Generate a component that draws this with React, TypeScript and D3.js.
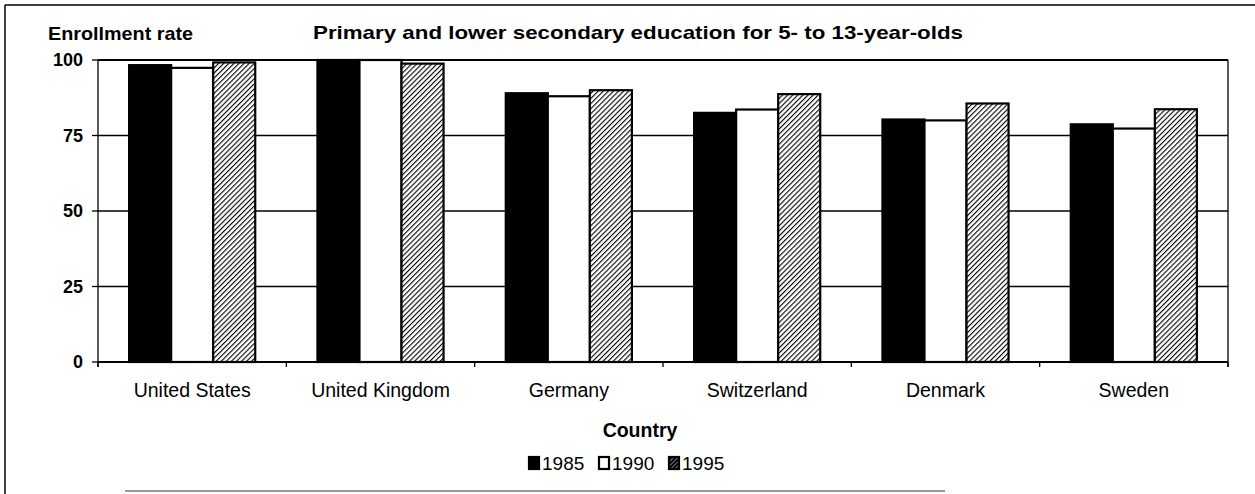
import React from "react";
import * as d3 from "d3";

const categories = ["United States", "United Kingdom", "Germany", "Switzerland", "Denmark", "Sweden"];
const seriesNames = ["1985", "1990", "1995"];
const values1985 = [98.3, 100, 89.0, 82.5, 80.3, 78.7];
const values1990 = [97.4, 100, 88.0, 83.6, 80.0, 77.3];
const values1995 = [99.2, 98.8, 90.0, 88.7, 85.6, 83.7];
const yTicks = [0, 25, 50, 75, 100];

const W = 1255, H = 494;
const M = { left: 98, right: 1228, top: 60, bottom: 362 };
const FONT = "'Liberation Sans', Arial, Helvetica, sans-serif";

export default function App() {
  const seriesVals = [values1985, values1990, values1995];
  const x0 = d3.scaleBand<string>().domain(categories).range([M.left, M.right]).paddingInner(0).paddingOuter(0);
  const x1 = d3.scaleBand<string>().domain(seriesNames).range([0, x0.bandwidth()]).paddingInner(0).paddingOuter(0.74);
  const y = d3.scaleLinear().domain([0, 100]).range([M.bottom, M.top]);
  const fills = ["#000", "#fff", "url(#hatch)"];
  const boundaries = d3.range(categories.length + 1).map((i) => M.left + i * x0.step());
  const legendX = [528, 598, 668];

  return (
    <svg width={W} height={H} style={{ position: "absolute", left: 0, top: 0, background: "#fff" }} fontFamily={FONT}>
      <defs>
        <pattern id="hatch" patternUnits="userSpaceOnUse" width="3.6" height="3.6" patternTransform="rotate(45)">
          <rect width="3.6" height="3.6" fill="#fff" />
          <line x1="0" y1="0" x2="0" y2="3.6" stroke="#000" strokeWidth="2.2" />
        </pattern>
        <pattern id="hatchSmall" patternUnits="userSpaceOnUse" width="3" height="3" patternTransform="rotate(45)">
          <rect width="3" height="3" fill="#000" />
          <line x1="0" y1="0" x2="0" y2="3" stroke="#fff" strokeWidth="1" />
        </pattern>
      </defs>
      {/* outer frame */}
      <line x1={5} y1={5} x2={W} y2={5} stroke="#000" strokeWidth={1.5} />
      <line x1={5} y1={5} x2={5} y2={H} stroke="#000" strokeWidth={1.5} />
      <line x1={125} y1={491} x2={945} y2={491} stroke="#777" strokeWidth={1.5} />

      {/* gridlines */}
      {yTicks.filter((t) => t > 0 && t < 100).map((t) => (
        <line key={t} x1={M.left} x2={M.right} y1={y(t)} y2={y(t)} stroke="#000" strokeWidth={1.3} />
      ))}
      {/* plot box */}
      <line x1={M.left} x2={M.right} y1={y(100)} y2={y(100)} stroke="#000" strokeWidth={2} />
      <line x1={M.right} x2={M.right} y1={y(100)} y2={M.bottom + 5} stroke="#000" strokeWidth={1.3} />
      <line x1={M.left} x2={M.left} y1={y(100)} y2={M.bottom + 5} stroke="#000" strokeWidth={1.3} />

      {/* bars */}
      {categories.map((c, i) => (
        <g key={c} transform={`translate(${x0(c)},0)`}>
          {seriesNames.map((s, j) => {
            const v = seriesVals[j][i];
            return (
              <rect key={s} x={x1(s)!} y={y(v)} width={x1.bandwidth()} height={y(0) - y(v)}
                fill={fills[j]} stroke="#000" strokeWidth={2.2} />
            );
          })}
        </g>
      ))}

      {/* x axis */}
      <line x1={M.left} x2={M.right} y1={M.bottom} y2={M.bottom} stroke="#000" strokeWidth={2} />
      {boundaries.map((bx, i) => (
        <line key={i} x1={bx} x2={bx} y1={M.bottom} y2={M.bottom + 5} stroke="#000" strokeWidth={1.3} />
      ))}
      {/* y ticks */}
      {yTicks.map((t) => (
        <g key={t}>
          <line x1={M.left - 6} x2={M.left} y1={y(t)} y2={y(t)} stroke="#000" strokeWidth={1.3} />
          <text x={83} y={y(t)} dy="0.36em" textAnchor="end" fontSize={18} fontWeight="bold">{t}</text>
        </g>
      ))}
      {categories.map((c) => (
        <text key={c} x={x0(c)! + x0.bandwidth() / 2} y={397} textAnchor="middle" fontSize={19.5}>{c}</text>
      ))}

      <text x={48} y={40} fontSize={18.5} fontWeight="bold" textLength={145} lengthAdjust="spacingAndGlyphs">Enrollment rate</text>
      <text x={313} y={39} fontSize={19} fontWeight="bold" textLength={650} lengthAdjust="spacingAndGlyphs">Primary and lower secondary education for 5- to 13-year-olds</text>
      <text x={640} y={437} textAnchor="middle" fontSize={19.5} fontWeight="bold">Country</text>

      {/* legend */}
      {seriesNames.map((s, j) => (
        <g key={s} transform={`translate(${legendX[j]},0)`}>
          <rect x={1} y={457} width={10} height={12} fill={j === 2 ? "url(#hatchSmall)" : fills[j]} stroke="#000" strokeWidth={2.2} />
          <text x={14} y={470} fontSize={19}>{s}</text>
        </g>
      ))}
    </svg>
  );
}
